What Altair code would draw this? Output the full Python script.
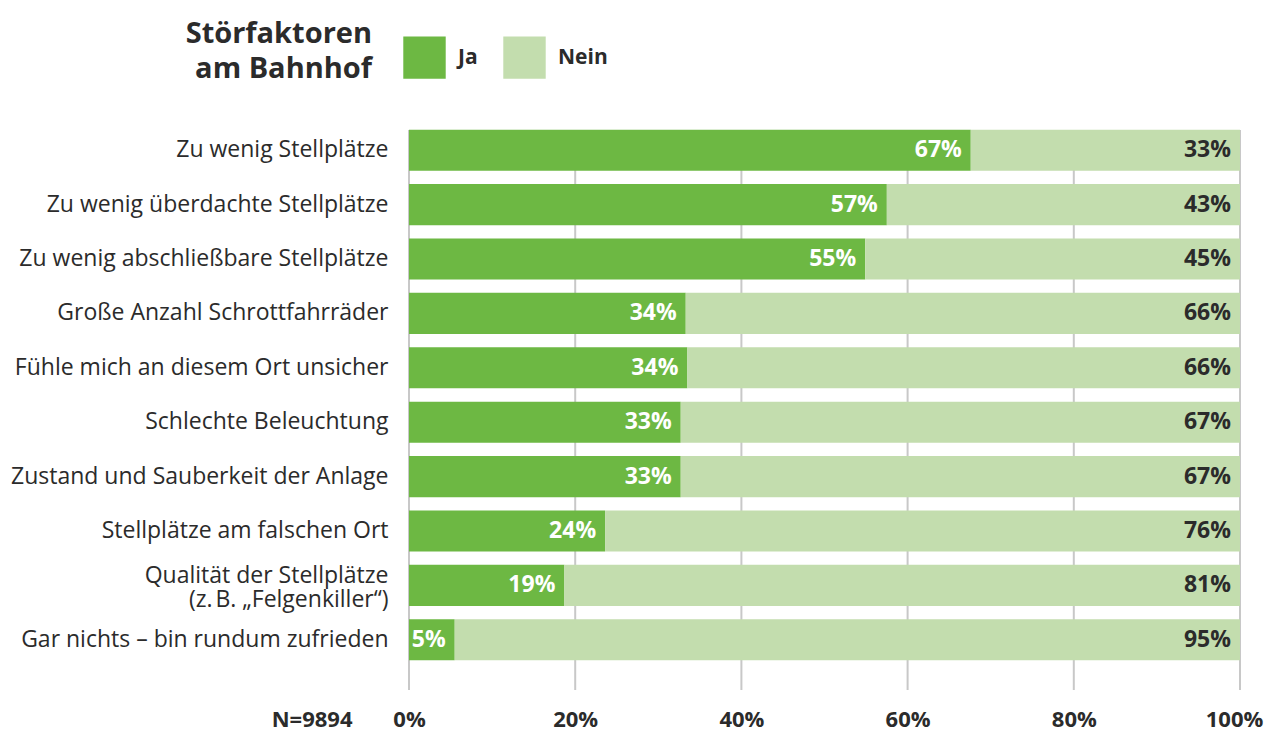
import altair as alt
import pandas as pd

categories = [
    "Zu wenig Stellplätze",
    "Zu wenig überdachte Stellplätze",
    "Zu wenig abschließbare Stellplätze",
    "Große Anzahl Schrottfahrräder",
    "Fühle mich an diesem Ort unsicher",
    "Schlechte Beleuchtung",
    "Zustand und Sauberkeit der Anlage",
    "Stellplätze am falschen Ort",
    "Qualität der Stellplätze|(z.\u202fB. \u201eFelgenkiller\u201c)",
    "Gar nichts \u2013 bin rundum zufrieden",
]
ja_values = [67.6, 57.5, 54.9, 33.3, 33.5, 32.7, 32.7, 23.6, 18.7, 5.5]
ja_labels = ["67%", "57%", "55%", "34%", "34%", "33%", "33%", "24%", "19%", "5%"]
nein_labels = ["33%", "43%", "45%", "66%", "66%", "67%", "67%", "76%", "81%", "95%"]
series = ["Ja", "Nein"]
colors = ["#6db843", "#c3ddae"]
x_ticks = [0, 20, 40, 60, 80, 100]
title_lines = ["Störfaktoren", "am Bahnhof"]
n_text = "N=9894"

FONT = "Open Sans"
DARK = "#2b2b2b"

rows = []
for i, c in enumerate(categories):
    rows.append({"category": c, "series": "Ja", "value": ja_values[i], "order": 0,
                 "label": ja_labels[i], "pos": ja_values[i]})
    rows.append({"category": c, "series": "Nein", "value": 100 - ja_values[i], "order": 1,
                 "label": nein_labels[i], "pos": 100})
df = pd.DataFrame(rows)
grid_df = pd.DataFrame({"tick": x_ticks})
title_df = pd.DataFrame({"t": [0]})

y_enc = alt.Y(
    "category:N",
    sort=categories,
    scale=alt.Scale(paddingInner=0.245, paddingOuter=0.1225),
    axis=alt.Axis(
        title=None, ticks=False, domain=False, labelPadding=21,
        labelFont=FONT, labelFontSize=23, labelColor=DARK, labelLimit=500,
        labelExpr="split(datum.label, '|')", labelLineHeight=24,
        labelOffset={"condition": {"test": "indexof(datum.value, '|') >= 0", "value": -9},
                     "value": 0},
    ),
)

grid = alt.Chart(grid_df).mark_rule(color="#c8c8c8", strokeWidth=2).encode(
    x=alt.X("tick:Q", scale=alt.Scale(domain=[0, 100])),
    y=alt.value(7),
    y2=alt.value(567),
)

bars = alt.Chart(df).mark_bar().encode(
    x=alt.X(
        "value:Q", stack="zero", scale=alt.Scale(domain=[0, 100]),
        axis=alt.Axis(
            values=x_ticks, grid=False, ticks=False, domain=False,
            labelExpr="datum.value + '%'", labelFont=FONT, labelFontSize=22,
            labelFontWeight="bold", labelColor=DARK, labelPadding=42,
            labelBaseline="top", labelFlush=False,
            labelOffset={"condition": {"test": "datum.value >= 100", "value": -6},
                         "value": 0},
            title=n_text, titleFont=FONT, titleFontSize=22, titleFontWeight="bold",
            titleColor=DARK, titleX=-57, titleY=42, titleAlign="right",
            titleBaseline="top", titleAnchor="start",
        ),
    ),
    y=y_enc,
    color=alt.Color(
        "series:N",
        scale=alt.Scale(domain=series, range=colors),
        legend=alt.Legend(
            orient="none", legendX=-6, legendY=-87, direction="horizontal",
            title=None, symbolType="square", symbolSize=1800, symbolStrokeWidth=0,
            labelFont=FONT, labelFontSize=21, labelFontWeight="bold",
            labelColor=DARK, labelOffset=12, columnPadding=25, padding=0,
            columns=2, symbolOpacity=1,
        ),
    ),
    order=alt.Order("order:Q"),
)

text_ja = alt.Chart(df).transform_filter("datum.series == 'Ja'").mark_text(
    align="right", baseline="middle", dx=-9, font=FONT, fontSize=23,
    fontWeight="bold", color="white",
).encode(
    x=alt.X("pos:Q", stack=None),
    y=alt.Y("category:N", sort=categories),
    text="label:N",
)

text_nein = alt.Chart(df).transform_filter("datum.series == 'Nein'").mark_text(
    align="right", baseline="middle", dx=-9, font=FONT, fontSize=23,
    fontWeight="bold", color=DARK,
).encode(
    x=alt.X("pos:Q", stack=None),
    y=alt.Y("category:N", sort=categories),
    text="label:N",
)

title = alt.Chart(title_df).mark_text(
    text=title_lines, align="right", baseline="top", font=FONT, fontSize=29,
    fontWeight="bold", color=DARK, lineHeight=35,
).encode(x=alt.value(-37), y=alt.value(-103))

chart = alt.layer(grid, bars, text_ja, text_nein, title).properties(
    width=831, height=544,
    autosize=alt.AutoSizeParams(type="none"),
    padding={"left": 401, "top": 115, "right": 25, "bottom": 64},
).configure_view(stroke=None)

chart.save("out.html", embed_options={"renderer": "svg", "actions": False})
